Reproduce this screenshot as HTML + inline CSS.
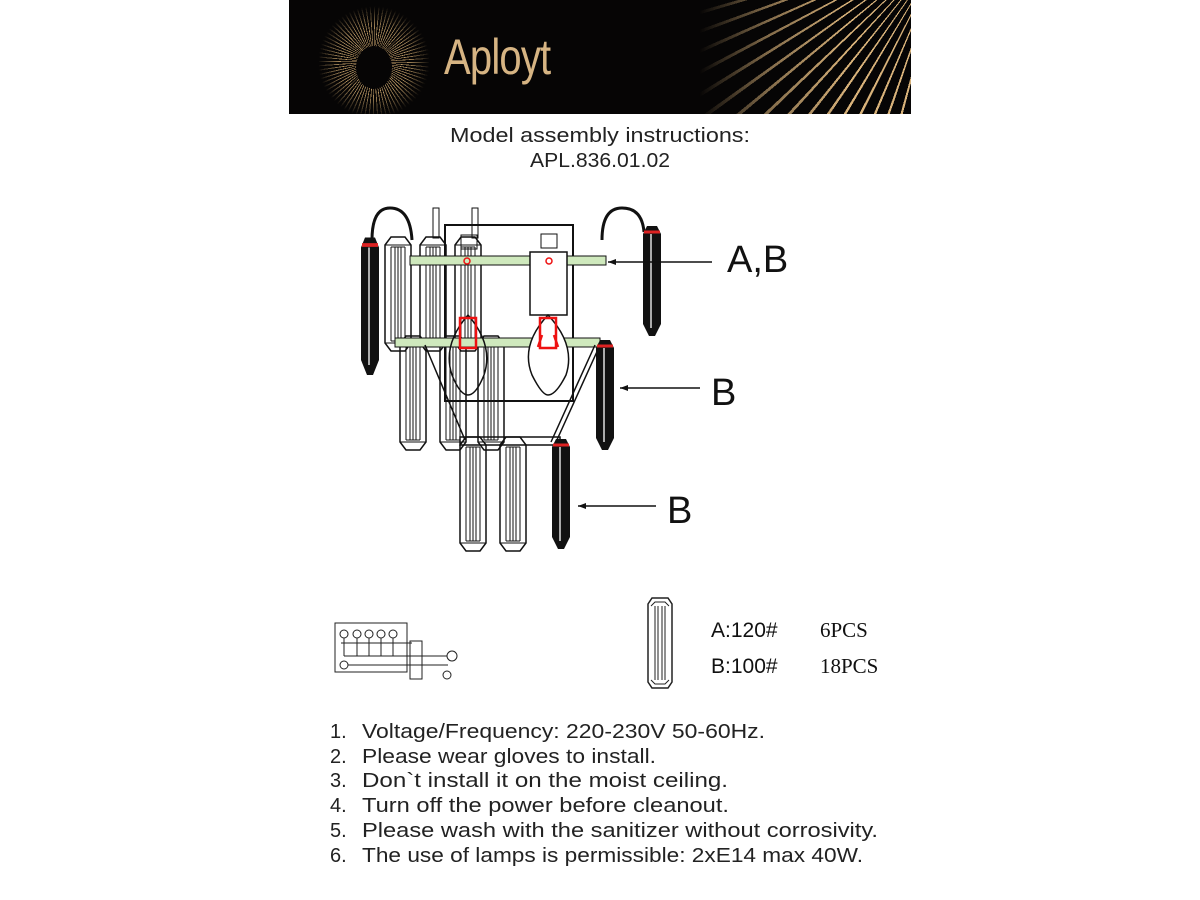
<!DOCTYPE html>
<html><head><meta charset="utf-8"><style>
html,body{margin:0;padding:0;background:#fff;}
#wrap{position:relative;width:1200px;height:900px;overflow:hidden;}
#hdr{position:absolute;left:289px;top:0;width:622px;height:114px;background:#060505;overflow:hidden;}
#sun{position:absolute;left:30px;top:5px;width:110px;height:114px;
 background:repeating-conic-gradient(from 0deg at 50% 50%, #c9a46c 0deg 1.3deg, transparent 1.3deg 4.5deg);
 -webkit-mask:radial-gradient(circle at 50% 50%, #000 22px, rgba(0,0,0,.9) 32px, transparent 56px);
 mask:radial-gradient(circle at 50% 50%, #000 22px, rgba(0,0,0,.9) 32px, transparent 56px);}
#core{position:absolute;left:67px;top:46px;width:36px;height:43px;border-radius:50%;background:#060505;}
#rays{position:absolute;left:0;top:0;width:622px;height:114px;
 background:repeating-conic-gradient(from 180deg at 660px -60px, transparent 0deg 3.2deg, #d8b27a 3.2deg 3.9deg);
 -webkit-mask:linear-gradient(90deg, transparent 410px, rgba(0,0,0,.6) 480px, #000 560px);
 mask:linear-gradient(90deg, transparent 410px, rgba(0,0,0,.6) 480px, #000 560px);}
#logo{position:absolute;left:155px;top:28px;font-family:"Liberation Sans",sans-serif;font-size:50px;color:#d6b483;letter-spacing:-1px;transform:scaleX(0.8);transform-origin:left;}
</style></head><body><div id="wrap">
<div id="hdr"><div id="rays"></div><div id="sun"></div><div id="core"></div><div id="logo">Aployt</div></div>
<svg width="1200" height="900" style="position:absolute;left:0;top:0" font-family="Liberation Sans, sans-serif">
<defs>
<g id="cr">
 <path d="M0,8 L6,0 L20,0 L26,8 L26,106 L20,114 L6,114 L0,106 Z" fill="none" stroke="#111" stroke-width="1.5"/>
 <path d="M6,10 L20,10 M6,104 L20,104 M0,8 L26,8 M0,106 L26,106" stroke="#111" stroke-width="1"/>
 <path d="M6,10V104 M10,10V104 M13,10V104 M16,10V104 M20,10V104" stroke="#111" stroke-width="1"/>
</g>
<g id="bk">
 <path d="M0,10 L4,2 L14,2 L18,10 L18,100 L12,112 L6,112 L0,100 Z" fill="#111"/>
 <path d="M8,10V104" stroke="#fff" stroke-width="1.3"/>
 <path d="M1,8 L17,8" stroke="#d22" stroke-width="3"/>
</g>
</defs>
<g>
<use href="#cr" x="385" y="237"/><use href="#cr" x="420" y="237"/><use href="#cr" x="455" y="237"/>
<use href="#cr" x="400" y="336"/><use href="#cr" x="440" y="336"/><use href="#cr" x="478" y="336"/>
<use href="#cr" x="460" y="437"/><use href="#cr" x="500" y="437"/>
<rect x="445" y="225" width="128" height="176" fill="none" stroke="#111" stroke-width="2"/>
<path d="M372,240 Q372,208 390,208 Q410,208 412,240 M602,240 Q602,208 622,208 Q642,208 644,232" fill="none" stroke="#111" stroke-width="3"/>
<rect x="433" y="208" width="6" height="30" fill="none" stroke="#111"/><rect x="472" y="208" width="6" height="30" fill="none" stroke="#111"/>
<rect x="410" y="256" width="196" height="9" fill="#cfe9bd" stroke="#111"/>
<rect x="395" y="338" width="205" height="9" fill="#cfe9bd" stroke="#111"/>
<rect x="461" y="235" width="16" height="14" fill="none" stroke="#111"/><rect x="541" y="234" width="16" height="14" fill="none" stroke="#111"/>
<rect x="530" y="252" width="37" height="63" fill="#fff" stroke="#111" stroke-width="1.5"/>
<path d="M548,315 Q520,345 532,375 Q542,395 548,395 Q556,395 566,375 Q576,345 548,315Z" fill="#fff" stroke="#111" stroke-width="1.5"/>
<path d="M468,315 Q442,345 452,375 Q460,395 468,395 Q476,395 484,375 Q494,345 468,315Z" fill="none" stroke="#111" stroke-width="1.5"/>
<path d="M540,318h16v30h-16z M542,335l-4,12 M554,335l4,12" fill="none" stroke="#e11" stroke-width="2.5"/>
<path d="M460,318h16v30h-16z" fill="none" stroke="#e11" stroke-width="2.5"/>
<circle cx="549" cy="261" r="3" fill="none" stroke="#e11" stroke-width="1.5"/><circle cx="467" cy="261" r="3" fill="none" stroke="#e11" stroke-width="1.5"/>
<path d="M600,345 L556,442 M595,345 L551,442 M425,345 L465,440" stroke="#111" stroke-width="1.5"/>
<rect x="460" y="437" width="100" height="8" fill="none" stroke="#111" stroke-width="1.5"/>
<g transform="translate(361,235) scale(1,1.25)"><use href="#bk"/></g>
<use href="#bk" x="643" y="224"/>
<use href="#bk" x="596" y="338"/>
<use href="#bk" x="552" y="437"/>
<path d="M608,262H712 M620,388H700 M578,506H656" stroke="#111" stroke-width="1.5"/>
<path d="M608,262l8,-3v6z M620,388l8,-3v6z M578,506l8,-3v6z" fill="#111"/>
</g>
<text x="727" y="272" font-size="38" fill="#111">A,B</text>
<text x="711" y="405" font-size="38" fill="#111">B</text>
<text x="667" y="523" font-size="38" fill="#111">B</text>
<text x="450" y="142" font-size="20" fill="#222" textLength="300" lengthAdjust="spacingAndGlyphs">Model assembly instructions:</text>
<text x="530" y="167" font-size="20" fill="#222" textLength="140" lengthAdjust="spacingAndGlyphs">APL.836.01.02</text>
<g fill="none" stroke="#222" stroke-width="1">
<rect x="335" y="623" width="72" height="49"/>
<rect x="410" y="641" width="12" height="38"/>
<circle cx="344" cy="634" r="4"/><circle cx="357" cy="634" r="4"/><circle cx="369" cy="634" r="4"/><circle cx="381" cy="634" r="4"/><circle cx="393" cy="634" r="4"/>
<path d="M341,643H412 M344,638V656 M357,638V656 M369,638V656 M381,638V656 M393,638V656 M344,656H436 M348,665H436 M436,656H447 M436,665H448"/>
<circle cx="344" cy="665" r="4"/><circle cx="452" cy="656" r="5"/><circle cx="447" cy="675" r="4"/>
</g>
<g transform="translate(648,598)">
<path d="M0,6 L4,0 L20,0 L24,6 L24,84 L20,90 L4,90 L0,84Z" fill="none" stroke="#222" stroke-width="1.5"/>
<path d="M3,8L7,4H17L21,8 M3,82L7,86H17L21,82 M7,8V82 M10,8V82 M14,8V82 M17,8V82" fill="none" stroke="#222"/>
</g>
<text x="711" y="637" font-size="21" fill="#111">A:120#</text>
<text x="820" y="637" font-size="21" fill="#111" font-family="Liberation Serif, serif">6PCS</text>
<text x="711" y="673" font-size="21" fill="#111">B:100#</text>
<text x="820" y="673" font-size="21" fill="#111" font-family="Liberation Serif, serif">18PCS</text>
<g font-size="20" fill="#222">
<text x="330" y="738">1.</text><text x="362" y="738" textLength="403" lengthAdjust="spacingAndGlyphs">Voltage/Frequency: 220-230V 50-60Hz.</text>
<text x="330" y="763">2.</text><text x="362" y="763" textLength="294" lengthAdjust="spacingAndGlyphs">Please wear gloves to install.</text>
<text x="330" y="787">3.</text><text x="362" y="787" textLength="366" lengthAdjust="spacingAndGlyphs">Don`t install it on the moist ceiling.</text>
<text x="330" y="812">4.</text><text x="362" y="812" textLength="367" lengthAdjust="spacingAndGlyphs">Turn off the power before cleanout.</text>
<text x="330" y="837">5.</text><text x="362" y="837" textLength="516" lengthAdjust="spacingAndGlyphs">Please wash with the sanitizer without corrosivity.</text>
<text x="330" y="862">6.</text><text x="362" y="862" textLength="501" lengthAdjust="spacingAndGlyphs">The use of lamps is permissible: 2xE14 max 40W.</text>
</g>
</svg>
</div></body></html>
